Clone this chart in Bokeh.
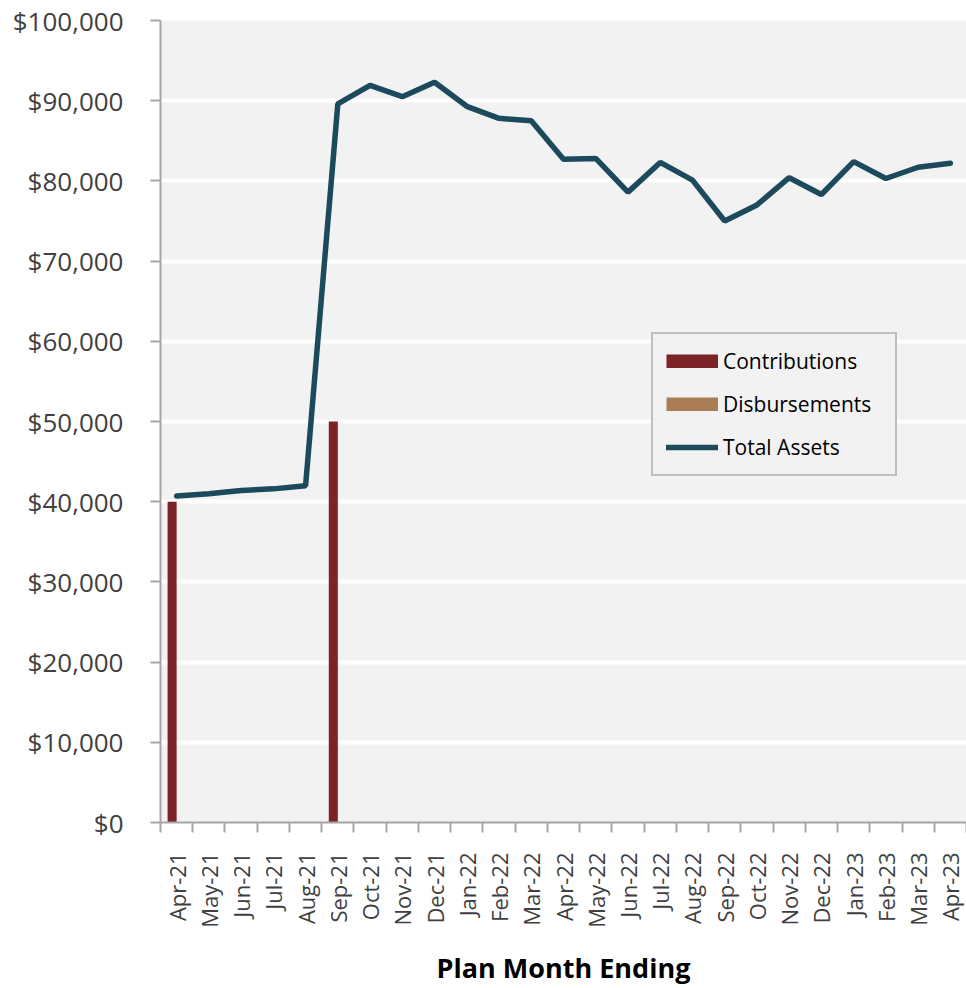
import math
from bokeh.plotting import figure
from bokeh.models import (Range1d, FixedTicker, NumeralTickFormatter, Legend, LegendItem,
                          ColumnDataSource)
from bokeh.embed import file_html
from bokeh.resources import INLINE

months = ["Apr-21", "May-21", "Jun-21", "Jul-21", "Aug-21", "Sep-21", "Oct-21", "Nov-21",
          "Dec-21", "Jan-22", "Feb-22", "Mar-22", "Apr-22", "May-22", "Jun-22", "Jul-22",
          "Aug-22", "Sep-22", "Oct-22", "Nov-22", "Dec-22", "Jan-23", "Feb-23", "Mar-23",
          "Apr-23"]
contributions = [40000, 0, 0, 0, 0, 50000, 0, 0, 0, 0, 0, 0, 0, 0, 0, 0, 0, 0, 0, 0, 0, 0, 0, 0, 0]
disbursements = [0] * 25
total_assets = [40700, 41000, 41400, 41600, 42000, 89600, 91900, 90500, 92300, 89300, 87800,
                87500, 82700, 82800, 78600, 82300, 80100, 75000, 77000, 80400, 78300, 82400,
                80300, 81700, 82200]
y_ticks = [0, 10000, 20000, 30000, 40000, 50000, 60000, 70000, 80000, 90000, 100000]

idx = list(range(len(months)))
src = ColumnDataSource(dict(
    xc=[i - 0.14 for i in idx],
    xd=[i + 0.14 for i in idx],
    x=idx,
    contrib=contributions,
    disb=disbursements,
    total=total_assets,
))

FONT = "Open Sans"
AX = "#a6a6a6"
TXT = "#404040"
C_CONTRIB = "#7b2326"
C_DISB = "#a97d56"
C_TOTAL = "#1b4a5c"

p = figure(width=966, height=988, output_backend="svg", toolbar_location=None,
           x_range=Range1d(-0.5, len(months) - 0.5), y_range=Range1d(0, 100000),
           min_border_left=160, min_border_right=0, min_border_top=20, min_border_bottom=165)
p.background_fill_color = "#f2f2f2"
p.border_fill_color = "white"
p.outline_line_color = None

p.vbar(x="xc", top="contrib", width=0.28, source=src, fill_color=C_CONTRIB, line_color=None)
p.vbar(x="xd", top="disb", width=0.28, source=src, fill_color=C_DISB, line_color=None)
r_t = p.line(x="x", y="total", source=src, line_color=C_TOTAL, line_width=5.5, line_cap="round")

# legend swatches (solid rectangles drawn as thick butt-capped strokes, no visible data)
nan = float("nan")
sw_c = p.line(x=[nan, nan], y=[nan, nan], line_color=C_CONTRIB, line_width=14, line_cap="butt")
sw_d = p.line(x=[nan, nan], y=[nan, nan], line_color=C_DISB, line_width=14, line_cap="butt")

# axes
p.yaxis.ticker = FixedTicker(ticks=y_ticks)
p.yaxis.formatter = NumeralTickFormatter(format="$0,0")
p.yaxis.major_label_text_font = FONT
p.yaxis.major_label_text_font_size = "26px"
p.yaxis.major_label_text_color = TXT
p.yaxis.major_label_standoff = 27
p.yaxis.axis_line_color = AX
p.yaxis.axis_line_width = 2
p.yaxis.major_tick_line_color = AX
p.yaxis.major_tick_line_width = 2
p.yaxis.major_tick_out = 10
p.yaxis.major_tick_in = 0
p.yaxis.minor_tick_line_color = None

p.xaxis.ticker = FixedTicker(ticks=idx, minor_ticks=[i - 0.5 for i in range(len(months) + 1)])
p.xaxis.major_label_overrides = {i: m for i, m in enumerate(months)}
p.xaxis.major_label_orientation = math.pi / 2
p.xaxis.major_label_text_font = FONT
p.xaxis.major_label_text_font_size = "22px"
p.xaxis.major_label_text_color = TXT
p.xaxis.major_label_standoff = 20
p.xaxis.major_tick_line_color = None
p.xaxis.major_tick_out = 0
p.xaxis.major_tick_in = 0
p.xaxis.minor_tick_line_color = AX
p.xaxis.minor_tick_line_width = 2
p.xaxis.minor_tick_out = 10
p.xaxis.minor_tick_in = 0
p.xaxis.axis_line_color = AX
p.xaxis.axis_line_width = 2
p.xaxis.axis_label = "Plan Month Ending"
p.xaxis.axis_label_text_font = FONT
p.xaxis.axis_label_text_font_size = "27px"
p.xaxis.axis_label_text_font_style = "bold"
p.xaxis.axis_label_text_color = "black"
p.xaxis.axis_label_standoff = 18

p.xgrid.grid_line_color = None
p.ygrid.ticker = FixedTicker(ticks=y_ticks)
p.ygrid.grid_line_color = "white"
p.ygrid.grid_line_width = 4

legend = Legend(items=[
    LegendItem(label="Contributions", renderers=[sw_c]),
    LegendItem(label="Disbursements", renderers=[sw_d]),
    LegendItem(label="Total Assets", renderers=[r_t]),
], location=(491, 346))
legend.label_text_font = FONT
legend.label_text_font_size = "21px"
legend.label_text_color = "black"
legend.glyph_width = 52
legend.glyph_height = 14
legend.label_height = 20
legend.label_width = 159
legend.label_standoff = 5
legend.spacing = 15
legend.padding = 13
legend.margin = 0
legend.background_fill_color = "#f2f2f2"
legend.background_fill_alpha = 1
legend.border_line_color = "#8c8c8c"
legend.border_line_width = 2
p.add_layout(legend, "center")

open("out.html", "w").write(file_html(p, INLINE))
